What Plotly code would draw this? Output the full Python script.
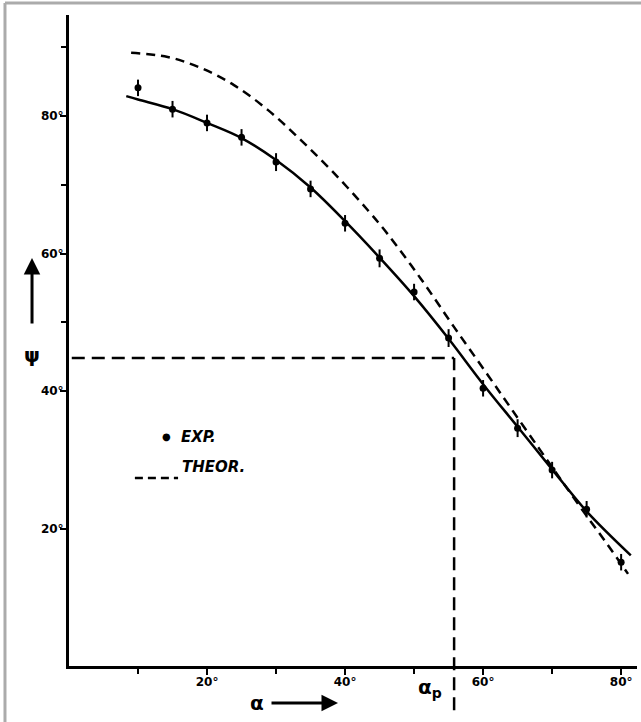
import plotly.graph_objects as go

# ---- data ----
alpha_exp = [10, 15, 20, 25, 30, 35, 40, 45, 50, 55, 60, 65, 70, 75, 80]
psi_exp = [84.1, 81.0, 79.0, 76.9, 73.3, 69.4, 64.4, 59.3, 54.4, 47.7, 40.4, 34.6, 28.5, 22.8, 15.1]
psi_err = [1.2, 1.2, 1.2, 1.2, 1.3, 1.2, 1.2, 1.3, 1.2, 1.3, 1.2, 1.3, 1.2, 1.2, 1.2]

alpha_fit = [8.3, 10, 15, 20, 25, 30, 35, 40, 45, 50, 55, 60, 65, 70, 75, 81.4]
psi_fit = [82.9, 82.4, 81.0, 79.0, 76.8, 73.6, 69.6, 64.7, 59.4, 53.8, 47.6, 41.0, 34.8, 28.6, 22.5, 16.1]

alpha_theor = [9.0, 14.3, 19.1, 23.9, 28.8, 33.6, 38.4, 43.3, 46.2, 51.0, 55.8, 60.7, 64.1, 68.0, 71.0, 74.6, 78.0, 81.0]
psi_theor = [89.2, 88.6, 87.0, 84.5, 80.9, 76.5, 71.7, 66.3, 62.8, 56.3, 49.3, 42.3, 37.4, 31.8, 27.5, 22.4, 17.7, 13.4]

alpha_p = 55.8
psi_p = 44.8

x_ticks = [20, 40, 60, 80]
x_minor = [10, 30, 50, 70]
y_ticks = [20, 40, 60, 80]
y_minor = [50, 70, 90]
tick_labels = ["20°", "40°", "60°", "80°"]

X_RANGE = [0, 82.3]
Y_RANGE = [0, 94.7]

def ypaper(v):
    return (v - Y_RANGE[0]) / (Y_RANGE[1] - Y_RANGE[0])

fig = go.Figure()

fig.add_trace(go.Scatter(x=alpha_theor, y=psi_theor, mode="lines",
                         line=dict(color="black", width=2.5, dash="9px,6px", shape="spline", smoothing=1),
                         showlegend=False, hoverinfo="skip"))
fig.add_trace(go.Scatter(x=alpha_fit, y=psi_fit, mode="lines",
                         line=dict(color="black", width=2.5, shape="spline", smoothing=1),
                         showlegend=False, hoverinfo="skip"))
fig.add_trace(go.Scatter(x=alpha_exp, y=psi_exp, mode="markers",
                         marker=dict(color="black", size=7, symbol="circle"),
                         error_y=dict(type="data", array=psi_err, color="black", thickness=2, width=0),
                         showlegend=False))

shapes = []
# alpha_p construction lines
shapes.append(dict(type="line", xref="x", yref="y", x0=0.4, x1=alpha_p, y0=psi_p, y1=psi_p,
                   line=dict(color="black", width=2.5, dash="13px,7px")))
shapes.append(dict(type="line", xref="x", yref="paper", x0=alpha_p, x1=alpha_p,
                   y0=-0.068, y1=ypaper(psi_p),
                   line=dict(color="black", width=2.5, dash="13px,7px")))
# legend dash sample
shapes.append(dict(type="line", xref="paper", yref="paper", x0=0.116, x1=0.192, y0=0.2888, y1=0.2888,
                   line=dict(color="black", width=2.5, dash="8px,5px")))
# scan border (grey)
shapes.append(dict(type="line", xref="paper", yref="paper", x0=-0.1127, x1=-0.1127, y0=-0.09, y1=1.0184,
                   line=dict(color="#ababab", width=3)))
shapes.append(dict(type="line", xref="paper", yref="paper", x0=-0.1127, x1=1.02, y0=1.0184, y1=1.0184,
                   line=dict(color="#ababab", width=3)))

bold = dict(family="DejaVu Sans", size=15, color="black", weight="bold", style="italic")
big = dict(family="DejaVu Sans", size=20, color="black", weight="bold")
annotations = [
    # legend
    dict(x=0.160, y=0.3518, xref="paper", yref="paper", text="●", showarrow=False,
         font=dict(family="DejaVu Sans", size=10, color="black")),
    dict(x=0.193, y=0.3518, xref="paper", yref="paper", text="EXP.", showarrow=False,
         xanchor="left", font=bold),
    dict(x=0.196, y=0.2888, xref="paper", yref="paper", text="THEOR.", showarrow=False,
         xanchor="left", font=bold),
    # psi label with upward arrow
    dict(x=-0.0651, y=0.6267, xref="paper", yref="paper", text="ψ", showarrow=True,
         ax=0, ay=97, borderpad=19, arrowhead=2, arrowsize=1.1, arrowwidth=3,
         arrowcolor="black", font=big),
    # alpha label with right arrow
    dict(x=0.4736, y=-0.0568, xref="paper", yref="paper", text="α", showarrow=True,
         ax=-81, ay=0, borderpad=7, arrowhead=2, arrowsize=1.1, arrowwidth=3,
         arrowcolor="black", font=big),
    dict(x=0.6356, y=-0.0568, xref="paper", yref="paper", text="α<sub>p</sub>", showarrow=False,
         font=big),
]

tickfont = dict(family="DejaVu Sans", size=12, color="black", weight="bold")

fig.update_layout(
    width=641, height=722,
    margin=dict(l=69, r=4, t=15, b=56),
    paper_bgcolor="white", plot_bgcolor="white",
    shapes=shapes, annotations=annotations,
    xaxis=dict(range=X_RANGE, showgrid=False, zeroline=False, showline=True, linecolor="black",
               linewidth=3, ticks="outside", ticklen=6, tickwidth=2, tickcolor="black",
               tickvals=x_ticks, ticktext=tick_labels, tickfont=tickfont, ticklabelstandoff=-3,
               minor=dict(tickvals=x_minor, ticks="outside", ticklen=5, tickwidth=2, tickcolor="black")),
    yaxis=dict(range=Y_RANGE, showgrid=False, zeroline=False, showline=True, linecolor="black",
               linewidth=3, ticks="outside", ticklen=6, tickwidth=2, tickcolor="black",
               tickvals=y_ticks, ticktext=tick_labels, tickfont=tickfont, ticklabelstandoff=-6,
               minor=dict(tickvals=y_minor, ticks="outside", ticklen=5, tickwidth=2, tickcolor="black")),
)

# remove the default 8px page margin so the figure fills the window exactly
fig.write_html("out.html", config={"displayModeBar": False},
               post_script="document.body.style.margin='0';")
